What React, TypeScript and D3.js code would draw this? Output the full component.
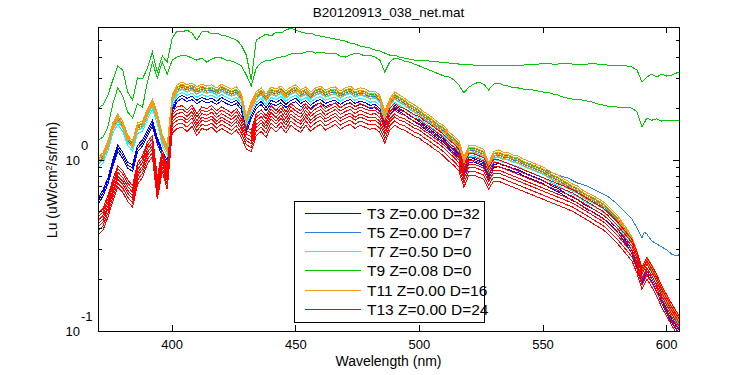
import React from 'react';
import * as d3 from 'd3';

// Wavelength grid (nm)
const WL = [
  370, 372, 374, 376, 378, 380, 382, 384, 386, 388,
  390, 392, 394, 396, 398, 400, 402, 404, 406, 408,
  410, 412, 414, 416, 418, 420, 422, 424, 426, 428,
  430, 432, 434, 436, 438, 440, 442, 444, 446, 448,
  450, 452, 454, 456, 458, 460, 462, 464, 466, 468,
  470, 472, 474, 476, 478, 480, 482, 484, 486, 488,
  490, 492, 494, 496, 498, 500, 502, 504, 506, 508,
  510, 512, 514, 516, 518, 520, 522, 524, 526, 528,
  530, 532, 534, 536, 538, 540, 542, 544, 546, 548,
  550, 552, 554, 556, 558, 560, 562, 564, 566, 568,
  570, 572, 574, 576, 578, 580, 582, 584, 586, 588,
  590, 592, 594, 596, 598, 600, 602, 604, 605,
];

// Main bundle of casts (Lu, uW/cm^2/sr/nm)
const BUNCH = [
  0.973, 1.03, 1.21, 1.54, 1.74, 1.58, 1.31, 1.21, 1.54, 1.58,
  1.86, 2.13, 1.76, 1.31, 1.14, 2.24, 2.57, 2.68, 2.57, 2.64,
  2.5, 2.6, 2.53, 2.57, 2.47, 2.6, 2.5, 2.43, 2.5, 2.3,
  1.7, 2.05, 2.34, 2.47, 2.27, 2.5, 2.43, 2.53, 2.37, 2.5,
  2.57, 2.4, 2.5, 2.34, 2.47, 2.53, 2.4, 2.47, 2.5, 2.37,
  2.47, 2.53, 2.4, 2.47, 2.43, 2.34, 2.37, 2.24, 1.81, 2.13,
  2.34, 2.24, 2.15, 2.04, 1.96, 1.88, 1.78, 1.71, 1.62, 1.54,
  1.48, 1.36, 1.29, 1.21, 0.973, 1.13, 1.14, 1.11, 1.08, 0.898,
  1.05, 1.07, 1.04, 1.03, 1.0, 0.986, 0.947, 0.922, 0.898, 0.874,
  0.851, 0.817, 0.785, 0.764, 0.733, 0.704, 0.676, 0.658, 0.624, 0.599,
  0.583, 0.56, 0.538, 0.51, 0.476, 0.446, 0.405, 0.369, 0.331, 0.275,
  0.221, 0.253, 0.227, 0.199, 0.169, 0.148, 0.131, 0.119, 0.113,
];

// T13 casts (red)
const RED = [
  0.422, 0.452, 0.538, 0.667, 0.806, 0.753, 0.667, 0.616, 0.839, 0.922,
  1.11, 1.21, 0.686, 1.0, 0.785, 1.67, 1.78, 1.81, 1.71, 1.83,
  1.62, 1.78, 1.74, 1.81, 1.69, 1.78, 1.71, 1.64, 1.74, 1.58,
  1.35, 1.3, 1.62, 1.71, 1.58, 1.81, 1.69, 1.83, 1.67, 1.86,
  1.76, 1.69, 1.86, 1.71, 1.81, 1.88, 1.74, 1.81, 1.88, 1.76,
  1.83, 1.88, 1.78, 1.86, 1.81, 1.76, 1.78, 1.69, 1.46, 1.74,
  1.86, 1.78, 1.74, 1.67, 1.6, 1.56, 1.48, 1.42, 1.35, 1.29,
  1.22, 1.14, 1.08, 1.0, 0.806, 0.947, 0.947, 0.922, 0.898, 0.785,
  0.874, 0.874, 0.851, 0.828, 0.806, 0.785, 0.764, 0.743, 0.724, 0.704,
  0.686, 0.667, 0.65, 0.632, 0.616, 0.599, 0.583, 0.56, 0.538, 0.517,
  0.496, 0.476, 0.458, 0.434, 0.405, 0.379, 0.35, 0.323, 0.298, 0.253,
  0.204, 0.234, 0.21, 0.186, 0.16, 0.142, 0.126, 0.113, 0.107,
];

// T9 near-surface casts (green, upper two)
const GREEN_HI1 = [
  2.01, 2.1, 2.4, 2.94, 3.55, 3.36, 2.5, 2.24, 3.02, 2.98,
  3.45, 4.28, 3.27, 4.06, 3.74, 5.17, 5.68, 5.61, 5.76, 5.53,
  5.03, 5.61, 5.68, 5.46, 5.53, 5.38, 5.31, 5.17, 5.03, 4.7,
  4.11, 2.94, 5.03, 5.24, 5.46, 5.31, 5.61, 5.53, 5.76, 5.91,
  5.76, 5.61, 5.53, 5.53, 5.38, 5.31, 5.24, 5.17, 5.1, 5.03,
  4.96, 4.83, 4.77, 4.64, 4.58, 4.52, 4.4, 4.34, 4.22, 4.11,
  4.11, 4.0, 3.95, 3.89, 3.84, 3.84, 3.84, 3.79, 3.79, 3.74,
  3.74, 3.69, 3.69, 3.64, 3.64, 3.64, 3.59, 3.59, 3.59, 3.59,
  3.59, 3.59, 3.59, 3.59, 3.59, 3.59, 3.59, 3.64, 3.64, 3.64,
  3.69, 3.69, 3.64, 3.64, 3.69, 3.69, 3.64, 3.64, 3.64, 3.64,
  3.69, 3.64, 3.64, 3.59, 3.55, 3.59, 3.55, 3.55, 3.5, 3.36,
  2.86, 3.06, 3.18, 3.06, 3.18, 3.1, 3.14, 3.23, 3.27,
];

const GREEN_HI2 = [
  1.31, 1.36, 1.56, 2.13, 2.64, 2.37, 1.91, 1.76, 2.13, 2.04,
  2.86, 3.74, 3.02, 3.74, 3.18, 3.84, 4.0, 4.11, 4.06, 3.95,
  3.84, 3.95, 3.74, 3.89, 4.0, 3.95, 3.84, 3.79, 3.69, 3.55,
  3.14, 2.71, 3.45, 3.69, 3.84, 3.84, 3.95, 4.0, 4.06, 4.17,
  4.22, 4.17, 4.28, 4.34, 4.22, 4.28, 4.22, 4.17, 4.22, 4.06,
  4.0, 4.11, 4.22, 4.17, 4.06, 4.11, 4.0, 3.84, 3.27, 3.74,
  3.95, 3.89, 3.79, 3.74, 3.64, 3.55, 3.45, 3.36, 3.27, 3.18,
  3.1, 3.06, 2.94, 2.74, 2.47, 2.67, 2.78, 2.86, 2.78, 2.57,
  2.78, 2.82, 2.74, 2.71, 2.64, 2.64, 2.6, 2.57, 2.57, 2.53,
  2.5, 2.5, 2.43, 2.4, 2.34, 2.3, 2.27, 2.27, 2.24, 2.21,
  2.18, 2.13, 2.1, 2.07, 2.07, 2.04, 2.04, 2.04, 2.01, 1.91,
  1.56, 1.76, 1.71, 1.74, 1.69, 1.71, 1.71, 1.71, 1.71,
];

// T3 (blue) in the UV part, 370-400 nm
const BLUE_UV = [
  0.599, 0.667, 0.785, 1.0, 1.22, 1.11, 0.973, 0.935, 1.22, 1.31,
  1.5, 1.71, 1.35, 1.14, 1.0, 2.01,
];

// T5 outlier cast, red end
const T5_TAIL_WL = [540, 544, 548, 552, 556, 560, 564, 568, 572, 576, 580, 584, 586, 588, 590, 591, 592, 594, 596, 598, 600, 602, 604, 605];
const T5_TAIL = [1.0, 0.96, 0.91, 0.862, 0.817, 0.785, 0.733, 0.704, 0.658, 0.616, 0.553, 0.483, 0.452, 0.4, 0.35, 0.379, 0.369, 0.336, 0.323, 0.31, 0.298, 0.282, 0.275, 0.279];

// Relative level of each cast in its group
const T3_LEVELS = [0.92, 0.96, 1.0];
const T5_LEVELS = [0.97, 1.0, 1.03];
const T7_LEVELS = [0.93, 0.97, 1.01];
const T9_LEVELS = [1.03, 1.07];
const T11_LEVELS = [0.98, 1.01, 1.04, 1.07];
const T13_LEVELS = [0.86, 0.91, 0.96, 1.0, 1.05, 1.1, 1.15];

const LEGEND_LABELS = [
  'T3 Z=0.00 D=32',
  'T5 Z=0.00 D=7',
  'T7 Z=0.50 D=0',
  'T9 Z=0.08 D=0',
  'T11 Z=0.00 D=16',
  'T13 Z=0.00 D=24',
];
const COLORS = ['#0000ff', '#2a7de1', '#00ffff', '#00c800', '#f59a1b', '#ff0000'];

const X_TICKS = [400, 450, 500, 550, 600];
const Y_MAJOR = [0.1, 1];
const Y_MINOR = [0.2, 0.3, 0.4, 0.5, 0.6, 0.7, 0.8, 0.9, 2, 3, 4, 5];

const FONT = "'Liberation Sans', Arial, Helvetica, sans-serif";

type Pt = [number, number];
type Line = { color: string; pts: Pt[] };

function zip(xs: number[], ys: number[], k = 1): Pt[] {
  return xs.map((w, i) => [w, ys[i] * k] as Pt);
}

export default function App() {
  const L = 98, R = 679, T = 27, B = 331;
  const x = d3.scaleLinear().domain([370, 605]).range([L, R]);
  const y = d3.scaleLog().domain([0.1, 6]).range([B, T]);
  const line = d3.line<Pt>().x((d) => x(d[0])).y((d) => y(d[1]));

  const lines: Line[] = [];
  const blueBase = [...BLUE_UV, ...BUNCH.slice(BLUE_UV.length).map((v) => v * 0.93)];
  T3_LEVELS.forEach((k) => lines.push({ color: COLORS[0], pts: zip(WL, blueBase, k) }));
  T5_LEVELS.forEach((k) => lines.push({ color: COLORS[1], pts: zip(WL, BUNCH, k) }));
  const t5out: Pt[] = [
    ...zip(WL.filter((w) => w < T5_TAIL_WL[0]), BUNCH),
    ...zip(T5_TAIL_WL, T5_TAIL),
  ];
  lines.push({ color: COLORS[1], pts: t5out });
  T7_LEVELS.forEach((k) => lines.push({ color: COLORS[2], pts: zip(WL, BUNCH, k) }));
  lines.push({ color: COLORS[3], pts: zip(WL, GREEN_HI1) });
  lines.push({ color: COLORS[3], pts: zip(WL, GREEN_HI2) });
  T9_LEVELS.forEach((k) => lines.push({ color: COLORS[3], pts: zip(WL, BUNCH, k) }));
  T11_LEVELS.forEach((k) => lines.push({ color: COLORS[4], pts: zip(WL, BUNCH, k) }));
  T13_LEVELS.forEach((k) => lines.push({ color: COLORS[5], pts: zip(WL, RED, k) }));

  const legX = 294, legY = 201, legW = 190, legH = 121;
  const rowY = (i: number) => 213.3 + i * 19.2;

  return (
    <svg
      width={750}
      height={375}
      style={{ position: 'absolute', left: 0, top: 0, background: '#fff' }}
      fontFamily={FONT}
    >
      <rect x={0} y={0} width={750} height={375} fill="#fff" />
      <defs>
        <clipPath id="plotclip">
          <rect x={L} y={T} width={R - L} height={B - T} />
        </clipPath>
      </defs>
      <g clipPath="url(#plotclip)">
        {lines.map((ln, i) => (
          <path key={i} d={line(ln.pts) || ''} fill="none" stroke={ln.color} strokeWidth={1} shapeRendering="crispEdges" />
        ))}
      </g>
      {/* axes box */}
      <rect x={L} y={T} width={R - L} height={B - T} fill="none" stroke="#000" strokeWidth={1} shapeRendering="crispEdges" />
      {X_TICKS.map((t) => (
        <g key={t} shapeRendering="crispEdges">
          <line x1={x(t)} x2={x(t)} y1={B} y2={B - 6} stroke="#000" />
          <line x1={x(t)} x2={x(t)} y1={T} y2={T + 6} stroke="#000" />
          <text x={x(t)} y={349} textAnchor="middle" fontSize={13}>{t}</text>
        </g>
      ))}
      {Y_MAJOR.map((t) => (
        <g key={t} shapeRendering="crispEdges">
          <line x1={L} x2={L + 6} y1={y(t)} y2={y(t)} stroke="#000" />
          <line x1={R} x2={R - 6} y1={y(t)} y2={y(t)} stroke="#000" />
        </g>
      ))}
      {Y_MINOR.map((t) => (
        <g key={t} shapeRendering="crispEdges">
          <line x1={L} x2={L + 3.5} y1={y(t)} y2={y(t)} stroke="#000" />
          <line x1={R} x2={R - 3.5} y1={y(t)} y2={y(t)} stroke="#000" />
        </g>
      ))}
      {Y_MAJOR.map((t) => (
        <g key={'l' + t}>
          <text x={80} y={y(t) + 5} textAnchor="end" fontSize={13}>10</text>
          <text x={81} y={y(t) - 10} textAnchor="start" fontSize={13}>{Math.round(Math.log10(t))}</text>
        </g>
      ))}
      <text x={(L + R) / 2} y={17} textAnchor="middle" fontSize={13.5}>B20120913_038_net.mat</text>
      <text x={(L + R) / 2} y={366} textAnchor="middle" fontSize={14}>Wavelength (nm)</text>
      <text transform={`translate(57,180) rotate(-90)`} textAnchor="middle" fontSize={14}>
        Lu (uW/cm<tspan dy={-5} fontSize={9}>2</tspan><tspan dy={5}>/sr/nm)</tspan>
      </text>
      {/* legend */}
      <rect x={legX} y={legY} width={legW} height={legH} fill="#fff" stroke="#000" strokeWidth={1} shapeRendering="crispEdges" />
      {LEGEND_LABELS.map((lab, i) => (
        <g key={lab}>
          <line x1={305} x2={361} y1={rowY(i)} y2={rowY(i)} stroke={COLORS[i]} strokeWidth={1} shapeRendering="crispEdges" />
          <text x={367} y={rowY(i) + 5.5} fontSize={15.5}>{lab}</text>
        </g>
      ))}
    </svg>
  );
}
